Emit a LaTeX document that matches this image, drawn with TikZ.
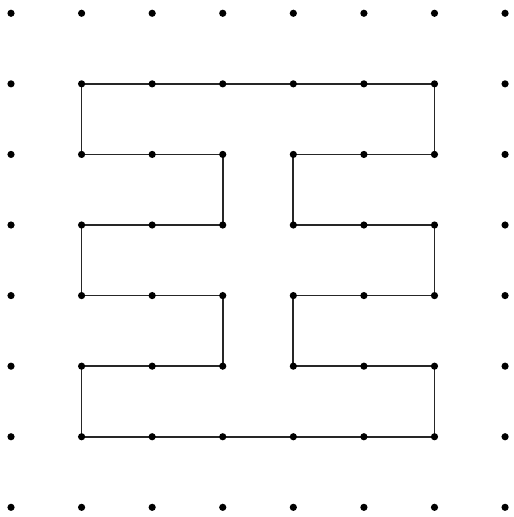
\documentclass[tikz,border=0pt]{standalone}
\begin{document}
\begin{tikzpicture}[
  dot/.style={circle, fill=black, inner sep=0pt, minimum size=2.9pt},
  outline/.style={line width=0.7pt, black!85}]
  \useasboundingbox (-0.156,-0.137) rectangle (7.118,7.188);
  % grid of dots, row 0 at the top
  \foreach \c in {0,...,7}
    \foreach \r in {0,...,7}
      \coordinate (p\c\r) at (\c,7-\r);
  % the closed outline
  \draw[outline] (p11) -- (p61) -- (p62) -- (p42) -- (p43) -- (p63) -- (p64)
    -- (p44) -- (p45) -- (p65) -- (p66) -- (p16) -- (p15) -- (p35) -- (p34)
    -- (p14) -- (p13) -- (p33) -- (p32) -- (p12) -- cycle;
  \foreach \c in {0,...,7}
    \foreach \r in {0,...,7}
      \node[dot] (d\c\r) at (p\c\r) {};
\end{tikzpicture}
\end{document}
